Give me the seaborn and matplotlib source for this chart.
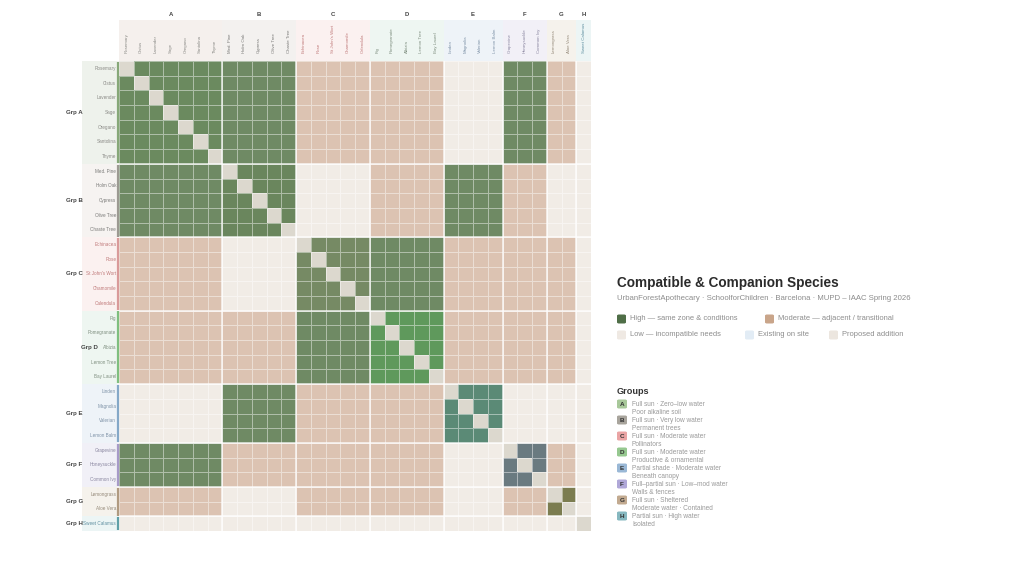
import numpy as np
import matplotlib.pyplot as plt
import seaborn as sns
from matplotlib.colors import ListedColormap
from matplotlib.patches import Rectangle, FancyBboxPatch

# ---- data ----
groups = ["A", "B", "C", "D", "E", "F", "G", "H"]
grp_a = ["Rosemary", "Cistus", "Lavender", "Sage", "Oregano", "Santolina", "Thyme"]
grp_b = ["Med. Pine", "Holm Oak", "Cypress", "Olive Tree", "Chaste Tree"]
grp_c = ["Echinacea", "Rose", "St John's Wort", "Chamomile", "Calendula"]
grp_d = ["Fig", "Pomegranate", "Albizia", "Lemon Tree", "Bay Laurel"]
grp_e = ["Linden", "Magnolia", "Valerian", "Lemon Balm"]
grp_f = ["Grapevine", "Honeysuckle", "Common Ivy"]
grp_g = ["Lemongrass", "Aloe Vera"]
grp_h = ["Sweet Calamus"]
group_species = [grp_a, grp_b, grp_c, grp_d, grp_e, grp_f, grp_g, grp_h]

# compatibility between groups: 2 high, 1 moderate, 0 low
compat_a = [2, 2, 1, 1, 0, 2, 1, 0]
compat_b = [2, 2, 0, 1, 2, 1, 0, 0]
compat_c = [1, 0, 2, 2, 1, 1, 1, 0]
compat_d = [1, 1, 2, 2, 1, 1, 1, 0]
compat_e = [0, 2, 1, 1, 2, 0, 0, 0]
compat_f = [2, 1, 1, 1, 0, 2, 1, 0]
compat_g = [1, 0, 1, 1, 0, 1, 2, 0]
compat_h = [0, 0, 0, 0, 0, 0, 0, 0]
group_compat = [compat_a, compat_b, compat_c, compat_d, compat_e, compat_f, compat_g, compat_h]

group_notes = [
    ("Full sun · Zero–low water", "Poor alkaline soil"),
    ("Full sun · Very low water", "Permanent trees"),
    ("Full sun · Moderate water", "Pollinators"),
    ("Full sun · Moderate water", "Productive & ornamental"),
    ("Partial shade · Moderate water", "Beneath canopy"),
    ("Full–partial sun · Low–mod water", "Walls & fences"),
    ("Full sun · Sheltered", "Moderate water · Contained"),
    ("Partial sun · High water", "Isolated"),
]

# ---- colours ----
c_low, c_mod, c_high, c_diag = "#f1ece6", "#dcc3b2", "#6f8a64", "#dcd8ce"
block_cols = ["#6b8a5f", "#6a865d", "#768a64", "#5f995c", "#5b8a76", "#6a7a80", "#7b7c50"]
strip_cols = ["#86a878", "#9c9a92", "#d99a9a", "#7fbf7f", "#84a8c8", "#a79ac8", "#b09a80", "#5fa0a8"]
row_bg = ["#eef2ec", "#f6f3f1", "#fbf1f0", "#eef6f1", "#eef3f8", "#f1f0f7", "#f5f2ec", "#ecf5f5"]
col_bg = ["#f5f0ed", "#f3f1ef", "#fbf1f0", "#eef6f2", "#eef3f8", "#f2f0f7", "#f5f2ec", "#ecf5f5"]
lab_cols = ["#8a8a86", "#7a7a78", "#c07a7a", "#7f8f80", "#7f93a8", "#8a86a0", "#958a7a", "#5f8fa0"]
box_cols = ["#a8c89a", "#a8a49c", "#eaa4a4", "#96c890", "#9ab8d6", "#b0a8d8", "#c2aa90", "#86b8c0"]

species = [s for g in group_species for s in g]
gidx = [i for i, g in enumerate(group_species) for _ in g]
n = len(species)

mat = np.zeros((n, n), dtype=int)
for i in range(n):
    for j in range(n):
        gi, gj = gidx[i], gidx[j]
        if i == j:
            mat[i, j] = 3
        elif gi == gj:
            mat[i, j] = 4 + gi
        else:
            mat[i, j] = group_compat[gi][gj]

palette = [c_low, c_mod, c_high, c_diag] + block_cols
cmap = ListedColormap(palette)

sns.set_theme(style="white")
plt.rcParams["font.family"] = ["Liberation Sans", "DejaVu Sans"]

fig = plt.figure(figsize=(10.24, 5.76), dpi=100)
fig.patch.set_facecolor("white")
W, H = 1024, 576
L, R, T, B = 119, 591, 61, 531
ax = fig.add_axes([L / W, 1 - B / H, (R - L) / W, (B - T) / H])

sns.heatmap(mat, cmap=cmap, vmin=-0.5, vmax=len(palette) - 0.5, cbar=False,
            linewidths=0.5, linecolor=(1, 1, 1, 0.45),
            xticklabels=species, yticklabels=species, ax=ax)

ax.xaxis.tick_top()
ax.tick_params(axis="x", length=0, pad=6, labelsize=3.2, rotation=90)
ax.tick_params(axis="y", length=0, pad=2, labelsize=3.3, rotation=0)
for lab, g in zip(ax.get_xticklabels(), gidx):
    lab.set_color(lab_cols[g])
for lab, g in zip(ax.get_yticklabels(), gidx):
    lab.set_color(lab_cols[g])

# group separators, backgrounds, strips
cw = (R - L) / n
ch = (B - T) / n
bounds = np.cumsum([0] + [len(g) for g in group_species])
for k in range(1, len(groups)):
    ax.axhline(bounds[k], color=(1, 1, 1, 0.85), lw=1.1)
    ax.axvline(bounds[k], color=(1, 1, 1, 0.85), lw=1.1)

for k, g in enumerate(groups):
    a, b = bounds[k], bounds[k + 1]
    # row label background
    ax.add_patch(Rectangle((-(L - 82) / cw, a), (L - 82) / cw, b - a, color=row_bg[k],
                           clip_on=False, zorder=-1, lw=0))
    ax.plot([-0.1, -0.1], [a + 0.05, b - 0.05], color=strip_cols[k], lw=1.6,
            clip_on=False, solid_capstyle="butt")
    # column header background
    ax.add_patch(Rectangle((a, -(T - 20) / ch), b - a, (T - 20) / ch, color=col_bg[k],
                           clip_on=False, zorder=-1, lw=0))
    ax.text((a + b) / 2, -(T - 15) / ch, g, ha="center", va="center", fontsize=4.3,
            fontweight="bold", color="#444444")
    gx = -(L - 81) / cw if g == "D" else -(L - 66) / cw
    ax.text(gx, (a + b) / 2, "Grp " + g, ha="left", va="center", fontsize=4.4,
            fontweight="bold", color="#444444")

# ---- right panel ----
def fy(py):
    return 1 - py / H

fig.text(617 / W, fy(283), "Compatible & Companion Species", fontsize=9.8,
         fontweight="bold", color="#2b2b2b", va="center")
fig.text(617 / W, fy(298), "UrbanForestApothecary · SchoolforChildren · Barcelona · MUPD – IAAC Spring 2026",
         fontsize=5.6, color="#8c8c8c", va="center")

legend_items = [
    (617, 319, "#4f6e47", "High — same zone & conditions"),
    (765, 319, "#c9a58a", "Moderate — adjacent / transitional"),
    (617, 335, "#efe9e3", "Low — incompatible needs"),
    (745, 335, "#e2ecf5", "Existing on site"),
    (829, 335, "#ece6df", "Proposed addition"),
]
for px, py, col, txt in legend_items:
    fig.patches.append(FancyBboxPatch((px / W, fy(py + 4.5)), 9 / W, 9 / H,
                                      boxstyle="round,pad=0,rounding_size=0.002",
                                      transform=fig.transFigure, facecolor=col, edgecolor="none"))
    fig.text((px + 13) / W, fy(py), txt, fontsize=5.4, color="#8c8c8c", va="center")

fig.text(617 / W, fy(391), "Groups", fontsize=6.6, fontweight="bold", color="#333333", va="center")
for k, g in enumerate(groups):
    py = 404 + k * 16
    fig.patches.append(FancyBboxPatch((617 / W, fy(py + 4.5)), 10 / W, 9 / H,
                                      boxstyle="round,pad=0,rounding_size=0.002",
                                      transform=fig.transFigure, facecolor=box_cols[k], edgecolor="none"))
    fig.text(622 / W, fy(py), g, fontsize=4.6, fontweight="bold", color="#333333",
             ha="center", va="center")
    fig.text(632 / W, fy(py), group_notes[k][0], fontsize=4.7, color="#999999", va="center")
    fig.text(632 / W, fy(py + 9), group_notes[k][1], fontsize=4.7, color="#999999", va="center")

fig.savefig("out.png", dpi=100, facecolor="white")
